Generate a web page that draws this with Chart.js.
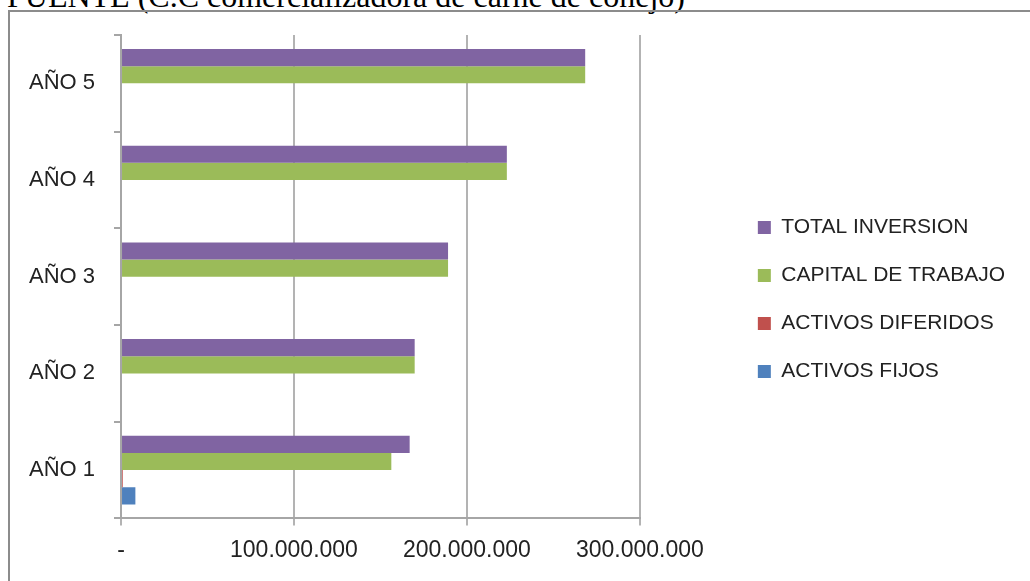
<!DOCTYPE html>
<html>
<head>
<meta charset="utf-8">
<script src="https://cdn.jsdelivr.net/npm/chart.js@4"></script>
<style>
  html, body { margin: 0; padding: 0; background: #fff; overflow: hidden; width: 1030px; height: 581px; }
  #source { position: absolute; left: 7px; top: -20px; font: 32px/32px "Liberation Serif", "Times New Roman", serif; color: #000; white-space: nowrap; }
  #frame { position: absolute; left: 8px; top: 10px; width: 1100px; height: 700px; border: 2px solid #8c8c8c; }
  #wrap { position: absolute; left: 10px; top: 13px; width: 1020px; height: 568px; }
</style>
</head>
<body>
<div id="source">FUENTE (C.C comercializadora de carne de conejo)</div>
<div id="frame"></div>
<div id="wrap"><canvas id="inversionChart"></canvas></div>
<script>
// categories and series (pesos)
const years = ['AÑO 1', 'AÑO 2', 'AÑO 3', 'AÑO 4', 'AÑO 5'];
const totalInversion = [166900000, 169800000, 189100000, 223100000, 268400000];
const capitalTrabajo = [156300000, 169800000, 189100000, 223100000, 268400000];
const activosDiferidos = [1000000, null, null, null, null];
const activosFijos = [8300000, null, null, null, null];
const xTicks = [0, 100000000, 200000000, 300000000];

Chart.defaults.font.family = '"Liberation Sans", Arial, sans-serif';
Chart.defaults.font.size = 21;
Chart.defaults.color = '#222';

function fmt(v) {
    if (v === 0) return '-';
    return String(v).replace(/\B(?=(\d{3})+(?!\d))/g, '.');
}

const ctx = document.getElementById('inversionChart').getContext('2d');
new Chart(ctx, {
    type: 'bar',
    data: {
        labels: years,
        datasets: [
            { label: 'TOTAL INVERSION', data: totalInversion, backgroundColor: '#8064A2' },
            { label: 'CAPITAL DE TRABAJO', data: capitalTrabajo, backgroundColor: '#9BBB59' },
            { label: 'ACTIVOS DIFERIDOS', data: activosDiferidos, backgroundColor: '#C0504D' },
            { label: 'ACTIVOS FIJOS', data: activosFijos, backgroundColor: '#4F81BD' }
        ]
    },
    options: {
        indexAxis: 'y',
        responsive: true,
        maintainAspectRatio: false,
        animation: false,
        barPercentage: 1,
        categoryPercentage: 0.71,
        layout: { padding: { left: 0, top: 11, bottom: 6, right: 15 } },
        plugins: {
            tooltip: { enabled: false },
            legend: {
                position: 'right',
                maxWidth: 400,
                labels: { boxWidth: 13, boxHeight: 13, padding: 27, color: '#222' }
            }
        },
        scales: {
            x: {
                min: 0,
                max: 300000000,
                afterBuildTicks: (scale) => { scale.ticks = xTicks.map(v => ({ value: v })); },
                ticks: { callback: (v) => fmt(v), padding: 11, maxRotation: 0, font: { size: 23 } },
                grid: { color: '#b3b3b3', lineWidth: 2, tickLength: 7 },
                border: { color: '#a6a6a6', width: 2 }
            },
            y: {
                reverse: true,
                ticks: { padding: 19, font: { size: 22 } },
                grid: { offset: true, drawOnChartArea: false, color: '#a6a6a6', lineWidth: 2, tickLength: 7 },
                border: { color: '#a6a6a6', width: 2 },
                afterFit: (scale) => { scale.paddingTop = 22; scale.paddingBottom = 0; }
            },
            // empty strip between the plot and the legend
            gap: {
                axis: 'y',
                type: 'linear',
                position: 'right',
                ticks: { display: false },
                grid: { display: false, drawTicks: false },
                border: { display: false },
                afterFit: (scale) => { scale.width = 91; }
            }
        }
    }
});
</script>
</body>
</html>
